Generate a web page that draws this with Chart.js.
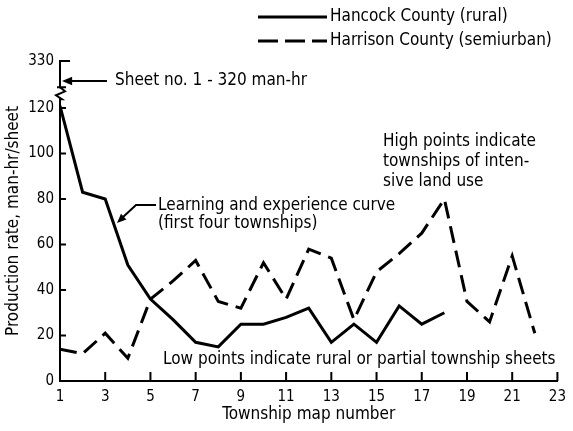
<!DOCTYPE html>
<html>
<head>
<meta charset="utf-8">
<script src="https://cdn.jsdelivr.net/npm/chart.js@4"></script>
<style>
  html, body { margin: 0; padding: 0; background: #fff; }
  #wrap { width: 573px; height: 431px; }
</style>
</head>
<body>
<div id="wrap"><canvas id="chart" width="573" height="431"></canvas></div>
<script>
// township map numbers (x) and production rates (man-hr/sheet)
const townships = [1, 2, 3, 4, 5, 6, 7, 8, 9, 10, 11, 12, 13, 14, 15, 16, 17, 18, 19, 20, 21, 22];
const hancock = [121, 83, 80, 51, 36, 27, 17, 15, 25, 25, 28, 32, 17, 25, 17, 33, 25, 30];
const harrison = [14, 12, 21, 10, 36, 44, 53, 35, 32, 52, 36, 58, 54, 27, 48, 56, 65, 80, 35, 26, 55, 21];

const xTicks = [1, 3, 5, 7, 9, 11, 13, 15, 17, 19, 21, 23];
const yTicks = [0, 20, 40, 60, 80, 100, 120];
const yBreakTop = 140.7;   // where the broken axis shows 330
const yBreakLabel = '330';

const seriesNames = ['Hancock County (rural)', 'Harrison County (semiurban)'];
const sheetNote = 'Sheet no. 1 - 320 man-hr';
const learningNote = ['Learning and experience curve', '(first four townships)'];
const highNote = ['High points indicate', 'townships of inten-', 'sive land use'];
const lowNote = 'Low points indicate rural or partial township sheets';

const FONT = "'DejaVu Sans Condensed', 'Liberation Sans Narrow', sans-serif";
Chart.defaults.font.family = FONT;
Chart.defaults.color = '#000';

function toPoints(vals) {
    return vals.map((v, i) => ({ x: townships[i], y: v }));
}

function arrowHead(ctx, fromX, fromY, toX, toY, size) {
    const a = Math.atan2(toY - fromY, toX - fromX);
    ctx.beginPath();
    ctx.moveTo(toX, toY);
    ctx.lineTo(toX - size * Math.cos(a - 0.4), toY - size * Math.sin(a - 0.4));
    ctx.lineTo(toX - size * Math.cos(a + 0.4), toY - size * Math.sin(a + 0.4));
    ctx.closePath();
    ctx.fill();
}

const extras = {
    id: 'extras',
    afterDraw(chart) {
        const ctx = chart.ctx;
        const xs = chart.scales.x, ys = chart.scales.y;
        const left = chart.chartArea.left, bottom = chart.chartArea.bottom;
        ctx.save();
        ctx.strokeStyle = '#000';
        ctx.fillStyle = '#000';
        ctx.lineWidth = 2;

        // inner tick marks
        ctx.beginPath();
        yTicks.forEach(v => {
            const y = ys.getPixelForValue(v);
            ctx.moveTo(left, y); ctx.lineTo(left + 6, y);
        });
        const yt = ys.getPixelForValue(yBreakTop);
        ctx.moveTo(left, yt); ctx.lineTo(left + 10, yt);
        xTicks.forEach(v => {
            const x = xs.getPixelForValue(v);
            ctx.moveTo(x, bottom); ctx.lineTo(x, bottom - 9);
        });
        ctx.stroke();

        // axis break between 120 and 330
        const yb = ys.getPixelForValue(126.5);
        ctx.fillStyle = '#fff';
        ctx.fillRect(left - 3, yb - 5, 6, 10);
        ctx.fillStyle = '#000';
        ctx.beginPath();
        ctx.moveTo(left - 3, yb - 6); ctx.lineTo(left + 6, yb - 6);
        ctx.moveTo(left, yb - 6);
        ctx.lineTo(left + 5, yb - 2);
        ctx.lineTo(left - 4, yb + 2);
        ctx.lineTo(left + 2, yb + 6);
        ctx.lineTo(left, yb + 6);
        ctx.stroke();

        // notes
        ctx.font = '17px ' + FONT;
        ctx.textBaseline = 'middle';
        ctx.textAlign = 'left';
        ctx.fillText(sheetNote, 115, 81);
        ctx.beginPath();
        ctx.moveTo(107, 81); ctx.lineTo(70, 81);
        ctx.stroke();
        arrowHead(ctx, 107, 81, 62, 81, 11);

        learningNote.forEach((t, i) => ctx.fillText(t, 158, 206 + i * 18));
        ctx.beginPath();
        ctx.moveTo(156, 205); ctx.lineTo(136, 205); ctx.lineTo(122, 218);
        ctx.stroke();
        arrowHead(ctx, 136, 205, 117, 223, 10);

        highNote.forEach((t, i) => ctx.fillText(t, 383, 142 + i * 20));
        ctx.fillText(lowNote, 163, 360);

        // legend
        const ds = chart.data.datasets;
        [17, 41].forEach((y, i) => {
            ctx.lineWidth = 3;
            ctx.setLineDash(ds[i].borderDash ? [20, 7] : []);
            ctx.beginPath();
            ctx.moveTo(258, y); ctx.lineTo(327, y);
            ctx.stroke();
            ctx.setLineDash([]);
            ctx.fillText(ds[i].label, 330, y);
        });
        ctx.restore();
    }
};

new Chart(document.getElementById('chart'), {
    type: 'line',
    data: {
        datasets: [
            {
                label: seriesNames[0],
                data: toPoints(hancock),
                borderColor: '#000',
                borderWidth: 3,
                pointRadius: 0,
                tension: 0,
                fill: false
            },
            {
                label: seriesNames[1],
                data: toPoints(harrison),
                borderColor: '#000',
                borderWidth: 3,
                borderDash: [17, 8],
                pointRadius: 0,
                tension: 0,
                fill: false
            }
        ]
    },
    options: {
        responsive: false,
        devicePixelRatio: 1,
        animation: false,
        layout: { padding: { top: 61, right: 10, left: 0, bottom: 0 } },
        plugins: { legend: { display: false }, tooltip: { enabled: false } },
        scales: {
            x: {
                type: 'linear',
                min: 1,
                max: 23,
                afterBuildTicks: s => { s.ticks = xTicks.map(v => ({ value: v })); },
                afterFit: s => { s.height = 50; },
                grid: { drawOnChartArea: false, drawTicks: false },
                border: { color: '#000', width: 2 },
                ticks: { padding: 7, color: '#000', font: { size: 15 }, autoSkip: false, maxRotation: 0 },
                title: { display: true, text: 'Township map number', color: '#000', font: { size: 17 }, padding: { top: 0, bottom: 6 } }
            },
            y: {
                min: 0,
                max: yBreakTop,
                afterBuildTicks: s => { s.ticks = yTicks.concat([yBreakTop]).map(v => ({ value: v })); },
                afterFit: s => { s.width = 60; },
                grid: { drawOnChartArea: false, drawTicks: false },
                border: { color: '#000', width: 2 },
                ticks: {
                    padding: 6, color: '#000', font: { size: 15 },
                    callback: v => v === yBreakTop ? yBreakLabel : v
                },
                title: { display: true, text: 'Production rate, man-hr/sheet', color: '#000', font: { size: 17 }, padding: { top: 3, bottom: 0 } }
            }
        }
    },
    plugins: [extras]
});
</script>
</body>
</html>
